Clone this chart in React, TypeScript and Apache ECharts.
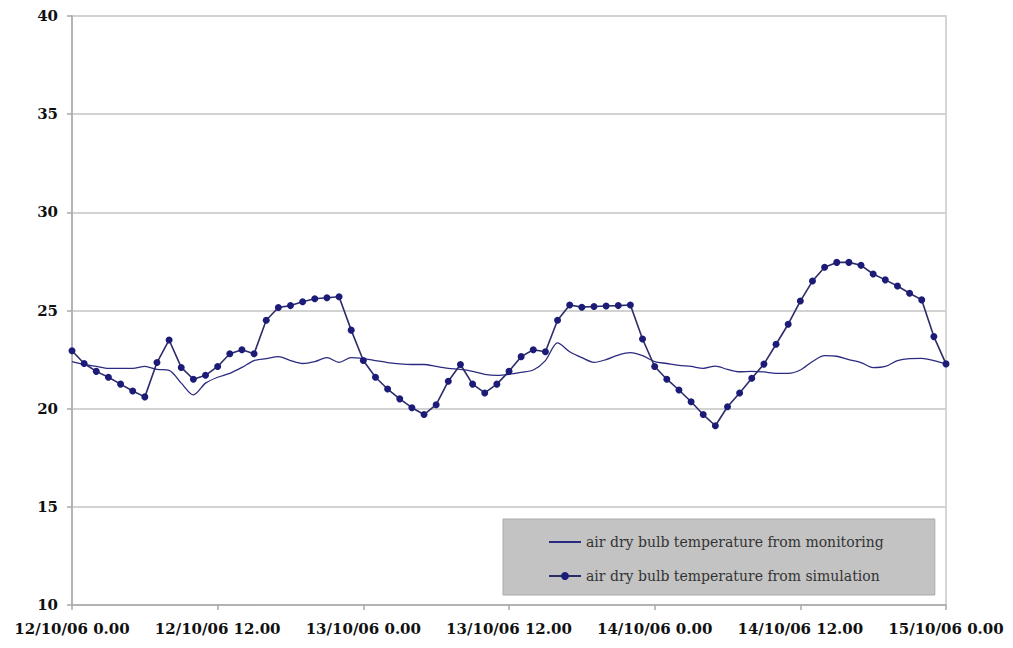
import React, { useEffect, useRef } from "react";
import * as echarts from "echarts";

const xTickLabels = [
  "12/10/06 0.00",
  "12/10/06 12.00",
  "13/10/06 0.00",
  "13/10/06 12.00",
  "14/10/06 0.00",
  "14/10/06 12.00",
  "15/10/06 0.00",
];

const seriesNames = [
  "air dry bulb temperature from monitoring",
  "air dry bulb temperature from simulation",
];

// hourly values, hour 0 = 12/10/06 0.00
const monitoring = [
  22.4, 22.25, 22.15, 22.05, 22.05, 22.05, 22.15, 22.0, 21.95, 21.3,
  20.7, 21.3, 21.6, 21.8, 22.1, 22.45, 22.55, 22.65, 22.45, 22.3,
  22.4, 22.6, 22.36, 22.6, 22.55, 22.45, 22.35, 22.28, 22.25, 22.25,
  22.15, 22.05, 22.0, 21.9, 21.75, 21.7, 21.75, 21.85, 21.97, 22.45,
  23.35, 22.9, 22.6, 22.36, 22.5, 22.73, 22.85, 22.7, 22.4, 22.3,
  22.2, 22.15, 22.05, 22.17, 22.0, 21.88, 21.9, 21.87, 21.8, 21.8,
  21.97, 22.4, 22.7, 22.67, 22.5, 22.35, 22.09, 22.15, 22.45, 22.55,
  22.56, 22.45, 22.28,
];

const simulation = [
  22.95, 22.3, 21.9, 21.6, 21.25, 20.9, 20.6, 22.35, 23.5, 22.1,
  21.5, 21.7, 22.15, 22.8, 23.0, 22.8, 24.5, 25.15, 25.25, 25.45,
  25.6, 25.65, 25.7, 24.0, 22.45, 21.6, 21.0, 20.5, 20.05, 19.7,
  20.2, 21.4, 22.25, 21.25, 20.8, 21.25, 21.9, 22.65, 23.0, 22.9,
  24.5, 25.28, 25.17, 25.2, 25.23, 25.25, 25.28, 23.55, 22.15, 21.5,
  20.95, 20.35, 19.7, 19.13, 20.1, 20.8, 21.55, 22.27, 23.28, 24.3,
  25.48, 26.5, 27.2, 27.45, 27.45, 27.3, 26.86, 26.56, 26.25, 25.88,
  25.54, 23.67, 22.28,
];

const hoursPerTick = 12;

export default function App() {
  const ref = useRef<HTMLDivElement>(null);

  useEffect(() => {
    if (!ref.current) return;
    const chart = echarts.init(ref.current, null, { renderer: "svg" });
    const labelFont = "DejaVu Serif";
    chart.setOption({
      animation: false,
      backgroundColor: "#ffffff",
      grid: {
        left: 72,
        right: 67,
        top: 16,
        bottom: 43,
        show: true,
        borderColor: "#c8c8c8",
        borderWidth: 1.5,
        backgroundColor: "transparent",
      },
      legend: {
        orient: "vertical",
        left: 503,
        top: 519,
        padding: [16, 51, 12, 45],
        itemGap: 20,
        itemWidth: 32,
        itemHeight: 10,
        backgroundColor: "#c3c3c3",
        borderColor: "#a9a9a9",
        borderWidth: 1,
        textStyle: {
          fontFamily: labelFont,
          fontSize: 14,
          color: "#333333",
        },
        data: [
          { name: seriesNames[0], itemStyle: { opacity: 0 } },
          { name: seriesNames[1] },
        ],
      },
      xAxis: {
        type: "value",
        min: 0,
        max: 72,
        interval: hoursPerTick,
        axisLine: { show: true, lineStyle: { color: "#a8a8a8", width: 1.5 } },
        axisTick: { show: true, length: 5, lineStyle: { color: "#a8a8a8", width: 1.5 } },
        splitLine: { show: false },
        axisLabel: {
          margin: 16,
          fontFamily: labelFont,
          fontWeight: "bold",
          fontSize: 15,
          color: "#111111",
          showMinLabel: true,
          showMaxLabel: true,
          formatter: (v: number) => xTickLabels[Math.round(v / hoursPerTick)] ?? "",
        },
      },
      yAxis: {
        type: "value",
        min: 10,
        max: 40,
        interval: 5,
        axisLine: { show: true, lineStyle: { color: "#a8a8a8", width: 1.5 } },
        axisTick: { show: true, length: 5, lineStyle: { color: "#a8a8a8", width: 1.5 } },
        splitLine: { show: true, lineStyle: { color: "#d2d2d2", width: 2 } },
        axisLabel: {
          margin: 14,
          fontFamily: labelFont,
          fontWeight: "bold",
          fontSize: 15,
          color: "#111111",
        },
      },
      series: [
        {
          name: seriesNames[0],
          type: "line",
          data: monitoring.map((v, i) => [i, v]),
          symbol: "none",
          smooth: 0.3,
          lineStyle: { color: "#2a2a80", width: 1.3 },
          itemStyle: { color: "#2a2a80" },
          z: 3,
        },
        {
          name: seriesNames[1],
          type: "line",
          data: simulation.map((v, i) => [i, v]),
          symbol: "circle",
          symbolSize: 7,
          showAllSymbol: true,
          lineStyle: { color: "#2c2c6a", width: 1.6 },
          itemStyle: { color: "#1c1c78" },
          z: 4,
        },
      ],
    });
    return () => chart.dispose();
  }, []);

  return (
    <div
      ref={ref}
      style={{ position: "fixed", left: 0, top: 0, width: 1013, height: 648 }}
    />
  );
}
